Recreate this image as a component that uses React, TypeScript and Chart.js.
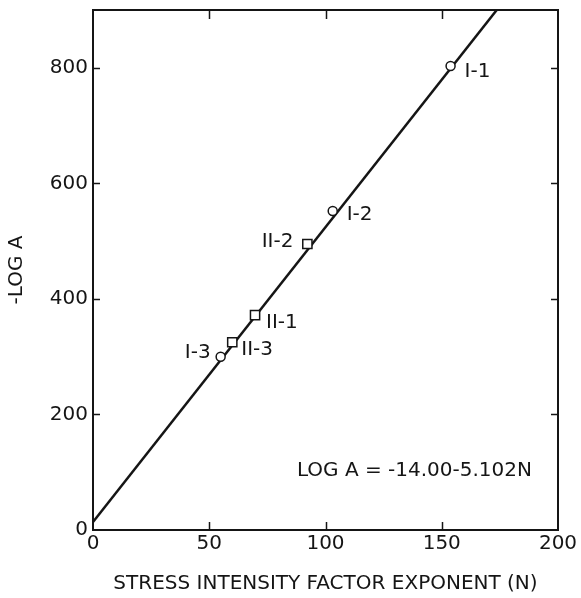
import React, { useEffect, useRef } from 'react';
import { Chart, registerables } from 'chart.js';

Chart.register(...registerables);

// ---- data ----
const seriesINames = ['I-1', 'I-2', 'I-3'];
const seriesIN = [153.8, 103.1, 54.9];
const seriesILogA = [803, 552, 300];

const seriesIINames = ['II-1', 'II-2', 'II-3'];
const seriesIIN = [69.7, 92.2, 59.9];
const seriesIILogA = [372, 495, 325];

// fitted line: LOG A = -14.00 - 5.102 N  (endpoints)
const fitN = [0, 180];
const fitLogA = [14.0, 932.4];

const xTickValues = [0, 50, 100, 150, 200];
const yTickValues = [0, 200, 400, 600, 800];
const xMin = 0;
const xMax = 200;
const yMin = 0;
const yMax = 900;

const equationText = 'LOG A = -14.00-5.102N';
const equationAt = { n: 87.7, logA: 102 };
const xTitle = 'STRESS INTENSITY FACTOR EXPONENT (N)';
const yTitle = '-LOG A';

// ---- styles / placement ----
const INK = '#151515';
const FONT_FAMILY = '"DejaVu Sans", sans-serif';
const FONT_SIZE = 20;

const labelPlacement: Record<string, { dx: number; dy: number; align: CanvasTextAlign }> = {
  'I-1': { dx: 14, dy: 6, align: 'left' },
  'I-2': { dx: 14, dy: 4, align: 'left' },
  'I-3': { dx: -10, dy: -4, align: 'right' },
  'II-1': { dx: 11, dy: 8, align: 'left' },
  'II-2': { dx: -14, dy: -2, align: 'right' },
  'II-3': { dx: 9, dy: 8, align: 'left' },
};

const framePlugin = {
  id: 'frameAndLabels',
  afterDraw(chart: any) {
    const { ctx, chartArea } = chart;
    const xs = chart.scales.x;
    const ys = chart.scales.y;
    const { left, right, top, bottom } = chartArea;
    ctx.save();
    ctx.strokeStyle = INK;
    ctx.lineWidth = 2;
    ctx.strokeRect(left, top, right - left, bottom - top);

    // inward tick marks on all four sides
    ctx.lineWidth = 1.5;
    ctx.beginPath();
    xTickValues.forEach((v) => {
      if (v === xMin || v === xMax) return;
      const px = Math.round(xs.getPixelForValue(v)) + 0.5;
      ctx.moveTo(px, bottom);
      ctx.lineTo(px, bottom - 8);
      ctx.moveTo(px, top);
      ctx.lineTo(px, top + 9);
    });
    yTickValues.forEach((v) => {
      if (v === yMin || v === yMax) return;
      const py = Math.round(ys.getPixelForValue(v)) + 0.5;
      ctx.moveTo(left, py);
      ctx.lineTo(left + 7, py);
      ctx.moveTo(right, py);
      ctx.lineTo(right - 7, py);
    });
    ctx.stroke();

    // point labels
    ctx.fillStyle = INK;
    ctx.font = `${FONT_SIZE}px ${FONT_FAMILY}`;
    ctx.textBaseline = 'middle';
    const drawLabels = (names: string[], ns: number[], vals: number[]) => {
      names.forEach((name, i) => {
        const p = labelPlacement[name];
        const px = xs.getPixelForValue(ns[i]);
        const py = ys.getPixelForValue(vals[i]);
        ctx.textAlign = p.align;
        ctx.fillText(name, px + p.dx, py + p.dy);
      });
    };
    drawLabels(seriesINames, seriesIN, seriesILogA);
    drawLabels(seriesIINames, seriesIIN, seriesIILogA);

    // equation
    ctx.textAlign = 'left';
    ctx.fillText(equationText, xs.getPixelForValue(equationAt.n), ys.getPixelForValue(equationAt.logA));
    ctx.restore();
  },
};

export default function App() {
  const canvasRef = useRef<HTMLCanvasElement | null>(null);

  useEffect(() => {
    const canvas = canvasRef.current;
    if (!canvas) return;
    const font = { family: FONT_FAMILY, size: FONT_SIZE };
    const chart = new Chart(canvas, {
      type: 'scatter',
      data: {
        datasets: [
          {
            label: 'Series I',
            data: seriesIN.map((n, i) => ({ x: n, y: seriesILogA[i] })),
            pointStyle: 'circle',
            pointRadius: 4.5,
            pointBorderWidth: 1.5,
            pointBackgroundColor: '#ffffff',
            pointBorderColor: INK,
            order: 0,
          },
          {
            label: 'Series II',
            data: seriesIIN.map((n, i) => ({ x: n, y: seriesIILogA[i] })),
            pointStyle: 'rect',
            pointRadius: 6.5,
            pointBorderWidth: 1.5,
            pointBackgroundColor: '#ffffff',
            pointBorderColor: INK,
            order: 1,
          },
          {
            label: 'Fit',
            data: fitN.map((n, i) => ({ x: n, y: fitLogA[i] })),
            showLine: true,
            borderColor: INK,
            borderWidth: 2.5,
            pointRadius: 0,
            clip: 0,
            order: 2,
          } as any,
        ],
      },
      options: {
        animation: false,
        responsive: false,
        devicePixelRatio: 1,
        layout: { padding: { top: 10, right: 23, bottom: 0, left: 0 } },
        plugins: {
          legend: { display: false },
          tooltip: { enabled: false },
        },
        scales: {
          x: {
            type: 'linear',
            min: xMin,
            max: xMax,
            afterBuildTicks: (scale: any) => {
              scale.ticks = xTickValues.map((v) => ({ value: v }));
            },
            afterFit: (scale: any) => {
              scale.height = 68;
              scale.paddingLeft = 0;
              scale.paddingRight = 0;
            },
            grid: { display: false, drawTicks: false },
            border: { display: false },
            ticks: { font, color: INK, padding: 2, maxRotation: 0, autoSkip: false },
            title: { display: true, text: xTitle, font, color: INK, padding: { top: 0, bottom: 2 } },
          },
          y: {
            type: 'linear',
            min: yMin,
            max: yMax,
            afterBuildTicks: (scale: any) => {
              scale.ticks = yTickValues.map((v) => ({ value: v }));
            },
            afterFit: (scale: any) => {
              scale.width = 93;
              scale.paddingTop = 0;
              scale.paddingBottom = 0;
            },
            grid: { display: false, drawTicks: false },
            border: { display: false },
            ticks: { font, color: INK, padding: 5, autoSkip: false },
            title: { display: true, text: yTitle, font, color: INK, padding: { top: 5, bottom: 0 } },
          },
        },
      } as any,
      plugins: [framePlugin],
    });
    return () => chart.destroy();
  }, []);

  return (
    <div style={{ position: 'fixed', left: 0, top: 0, width: 581, height: 598, background: '#ffffff' }}>
      <canvas ref={canvasRef} width={581} height={598} style={{ display: 'block', width: 581, height: 598 }} />
    </div>
  );
}
